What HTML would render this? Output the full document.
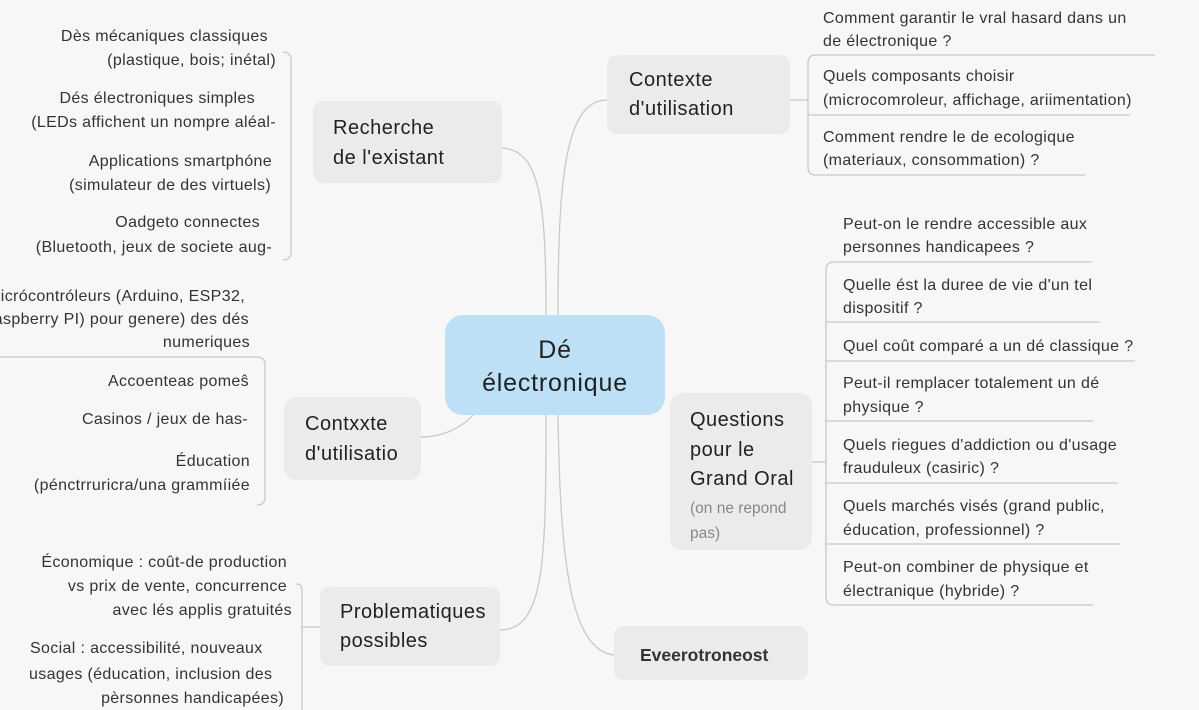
<!DOCTYPE html>
<html><head><meta charset="utf-8"><style>
html,body{margin:0;padding:0;background:#f7f7f7}
svg{display:block}
text{font-family:"Liberation Sans",sans-serif;fill:#333}
.l{font-size:16px;letter-spacing:0.35px}
.r{text-anchor:end}
.t{font-size:20px;letter-spacing:0.5px;fill:#222}
</style></head><body>
<svg width="1199" height="710" viewBox="0 0 1199 710">
<g fill="none" stroke="#c8c8c8" stroke-width="1.3">
<path d="M546 316 C546 200 540 150 502 148"/>
<path d="M558 316 C558 180 565 100 607 100"/>
<path d="M546 414 C546 560 545 630 500 630"/>
<path d="M558 414 C560 560 570 650 614 655"/>
<path d="M474 414 C460 430 440 437 421 437"/>
<path d="M283 52 Q291 52 291 60 L291 252 Q291 260 283 260"/>
<path d="M0 357 L257 357 Q265 357 265 365 L265 497 Q265 505 257 505"/>
<path d="M296 584 Q302 584 302 590 L302 710 M302 627 L320 627"/>
<path d="M790 100 L808 100"/>
<path d="M1155 55 L816 55 Q808 55 808 63 L808 167 Q808 175 816 175 L1085 175 M808 115 L1130 115"/>
<path d="M812 462 L826 462"/>
<path d="M1092 262 L834 262 Q826 262 826 270 L826 597 Q826 605 834 605 L1093 605 M826 322 L1100 322 M826 361 L1135 361 M826 421 L1093 421 M826 483 L1118 483 M826 544 L1120 544"/>
</g>
<rect x="445" y="315" width="220" height="100" rx="18" fill="#bde0f6"/>
<text x="555" y="358" text-anchor="middle" style="font-size:25px;letter-spacing:0.8px;fill:#222">Dé</text>
<text x="555" y="391" text-anchor="middle" style="font-size:25px;letter-spacing:0.8px;fill:#222">électronique</text>
<g fill="#ebebed">
<rect x="313" y="101" width="189" height="82" rx="10"/>
<rect x="607" y="55" width="183" height="79" rx="10"/>
<rect x="284" y="397" width="137" height="83" rx="12"/>
<rect x="320" y="587" width="180" height="79" rx="10"/>
<rect x="670" y="393" width="142" height="157" rx="12"/>
<rect x="614" y="626" width="194" height="54" rx="10"/>
</g>
<text class="t" x="333" y="134">Recherche</text><text class="t" x="333" y="164">de l'existant</text>
<text class="t" x="629" y="86">Contexte</text><text class="t" x="629" y="115">d'utilisation</text>
<text class="t" x="305" y="430">Contxxte</text><text class="t" x="305" y="460">d'utilisatio</text>
<text class="t" x="340" y="618">Problematiques</text><text class="t" x="340" y="647">possibles</text>
<text class="t" x="690" y="426">Questions</text><text class="t" x="690" y="456">pour le</text><text class="t" x="690" y="485">Grand Oral</text>
<text x="690" y="513" style="font-size:15.5px;fill:#888">(on ne repond</text><text x="690" y="538" style="font-size:15.5px;fill:#888">pas)</text>
<text x="640" y="661" style="font-size:17.5px;font-weight:bold;fill:#333">Eveerotroneost</text>
<text class="l r" x="268" y="41">Dès mécaniques classiques</text>
<text class="l r" x="276" y="65">(plastique, bois; inétal)</text>
<text class="l r" x="255" y="103">Dés électroniques simples</text>
<text class="l r" x="276" y="127">(LEDs affichent un nompre aléal-</text>
<text class="l r" x="272" y="166">Applications smartphóne</text>
<text class="l r" x="271" y="190">(simulateur de des virtuels)</text>
<text class="l r" x="260" y="227">Oadgeto connectes</text>
<text class="l r" x="272" y="252">(Bluetooth, jeux de societe aug-</text>
<text class="l r" x="245" y="301">icrócontróleurs (Arduino, ESP32,</text>
<text class="l r" x="249" y="324">aspberry PI) pour genere) des dés</text>
<text class="l r" x="250" y="347">numeriques</text>
<text class="l r" x="249" y="386">Accoenteaɛ pomeŝ</text>
<text class="l r" x="248" y="424">Casinos / jeux de has-</text>
<text class="l r" x="250" y="466">Éducation</text>
<text class="l r" x="250" y="490">(pénctrruricra/una grammíiée</text>
<text class="l r" x="287" y="567">Économique :  coût-de production</text>
<text class="l r" x="287" y="591">vs prix de vente, concurrence</text>
<text class="l r" x="292" y="615">avec lés applis gratuités</text>
<text class="l" x="30" y="653">Social :  accessibilité, nouveaux</text>
<text class="l" x="29" y="679">usages (éducation, inclusion des</text>
<text class="l r" x="284" y="703">pèrsonnes handicapées)</text>
<text class="l" x="823" y="23">Comment garantir le vral hasard dans un</text>
<text class="l" x="823" y="46">de électronique ?</text>
<text class="l" x="823" y="81">Quels composants choisir</text>
<text class="l" x="823" y="105">(microcomroleur, affichage, ariimentation)</text>
<text class="l" x="823" y="142">Comment rendre le de ecologique</text>
<text class="l" x="823" y="165">(materiaux, consommation) ?</text>
<text class="l" x="843" y="229">Peut-on le rendre accessible aux</text>
<text class="l" x="843" y="252">personnes handicapees ?</text>
<text class="l" x="843" y="290">Quelle ést la duree de vie d'un tel</text>
<text class="l" x="843" y="313">dispositif ?</text>
<text class="l" x="843" y="351">Quel coût comparé a un dé classique ?</text>
<text class="l" x="843" y="388">Peut-il remplacer totalement un dé</text>
<text class="l" x="843" y="412">physique ?</text>
<text class="l" x="843" y="450">Quels riegues d'addiction ou d'usage</text>
<text class="l" x="843" y="473">frauduleux (casiric) ?</text>
<text class="l" x="843" y="511">Quels marchés visés (grand public,</text>
<text class="l" x="843" y="535">éducation, professionnel) ?</text>
<text class="l" x="843" y="572">Peut-on combiner de physique et</text>
<text class="l" x="843" y="596">électranique (hybride) ?</text>
</svg>
</body></html>
